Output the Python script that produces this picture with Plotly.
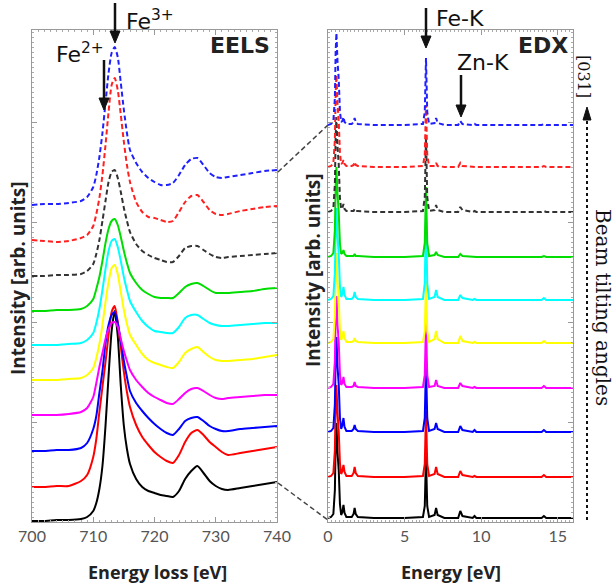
import plotly.graph_objects as go

# ---------------- EELS data (Fe L2,3 edge) ----------------
eels_energy = [700, 702, 704, 706, 708, 709, 710, 710.5, 711, 711.5, 712, 712.5, 713, 713.5,
               714, 714.5, 715, 715.5, 716, 717, 718, 719, 720, 721, 722, 723, 724, 725, 726,
               727, 728, 729, 730, 731, 732, 734, 736, 738, 740]

eels_black = [0, 0, 1, 1, 2, 4, 10, 18, 32, 55, 95, 145, 190, 210, 185, 135, 95, 72, 57, 42, 34, 30,
              28, 26, 25, 24, 30, 42, 50, 55, 48, 40, 35, 32, 31, 33, 35, 37, 39]
eels_red = [0, 0, 1, 1, 6, 12, 30, 48, 75, 100, 125, 152, 175, 181, 165, 140, 115, 95, 80, 62, 50, 42,
            35, 30, 26, 24, 32, 45, 54, 57, 52, 45, 40, 35, 32, 34, 36, 38, 40]
eels_blue = [0, 0, 1, 1, 3, 8, 22, 35, 58, 80, 108, 126, 136, 139, 128, 110, 90, 74, 60, 48, 40, 33,
             27, 22, 18, 16, 22, 30, 33, 34, 30, 25, 22, 20, 20, 22, 23, 24, 25]
eels_magenta = [0, 0, 0, 1, 3, 7, 18, 32, 48, 62, 76, 86, 92, 93, 88, 76, 64, 54, 45, 35, 28, 22,
                18, 15, 12, 11, 16, 22, 26, 27, 24, 20, 17, 16, 17, 18, 19, 20, 20]
eels_yellow = [0, 0, 0, 1, 2, 5, 12, 22, 36, 55, 78, 98, 112, 115, 106, 88, 70, 56, 45, 35, 26, 20,
               17, 15, 13, 12, 18, 27, 31, 33, 28, 23, 20, 19, 19, 20, 21, 23, 25]
eels_cyan = [0, 0, 0, 1, 2, 5, 12, 22, 36, 55, 76, 94, 104, 106, 98, 84, 68, 55, 44, 33, 24, 18,
             14, 13, 12, 12, 18, 27, 30, 30, 26, 22, 20, 19, 19, 20, 21, 22, 22]
eels_green = [0, 0, 1, 1, 2, 5, 12, 22, 34, 50, 68, 82, 90, 92, 86, 74, 60, 48, 38, 28, 21, 17,
              14, 13, 13, 13, 18, 24, 27, 28, 25, 21, 18, 18, 18, 19, 20, 22, 23]
eels_black_dash = [0, 0, 1, 1, 2, 5, 12, 22, 36, 55, 75, 94, 104, 106, 98, 84, 68, 55, 44, 32, 25, 21,
                   18, 16, 14, 14, 20, 28, 30, 30, 26, 22, 19, 18, 19, 20, 21, 22, 23]
eels_red_dash = [0, -1, -2, -1, 2, 5, 14, 26, 42, 65, 95, 128, 155, 162, 150, 125, 98, 75, 58, 38, 28,
                 23, 22, 20, 18, 19, 28, 38, 44, 45, 38, 30, 26, 25, 26, 29, 31, 33, 34]
eels_blue_dash = [0, 1, 1, 2, 4, 8, 18, 30, 48, 72, 102, 132, 152, 158, 148, 122, 95, 72, 55, 42, 33,
                  27, 23, 20, 20, 22, 30, 40, 46, 47, 40, 32, 28, 27, 28, 30, 32, 34, 35]

eels_offsets = [1, 35, 71, 107, 142, 177, 211, 246, 282, 317]

# ---------------- EDX data ----------------
edx_energy = [0.00, 0.20, 0.35, 0.45, 0.50, 0.55, 0.62, 0.70, 0.78, 0.86, 0.94, 1.01, 1.08, 1.20,
              1.55, 1.67, 1.74, 1.81, 1.95, 3.00, 5.00, 6.20, 6.32, 6.40, 6.48, 6.60, 6.96, 7.06,
              7.16, 7.60, 8.50, 8.64, 8.78, 9.45, 9.57, 9.69, 12.0, 13.95, 14.10, 14.25, 16.00]

edx_black = [0, 1, 4, 28, 76, 95, 66, 48, 14, 3, 6, 13, 5, 1, 1, 4, 10, 4, 1, 0, 0, 1, 12, 62, 12, 1,
             3, 10, 3, 0, 0, 7, 2, 0, 2, 0, 0, 0, 2, 0, 0]
edx_red = [0, 1, 4, 27, 74, 92, 64, 46, 14, 3, 6, 12, 5, 1, 1, 4, 10, 4, 1, 0, 0, 1, 13, 66, 13, 1,
           3, 10, 3, 0, 0, 6, 2, 0, 1, 0, 0, 0, 2, 0, 0]
edx_blue = [0, 1, 4, 28, 76, 95, 66, 48, 14, 3, 7, 14, 5, 1, 1, 3, 7, 3, 1, 0, 0, 1, 14, 70, 14, 1,
            3, 9, 3, 0, 0, 6, 2, 0, 2, 0, 0, 0, 2, 0, 0]
edx_magenta = [0, 1, 4, 27, 74, 92, 64, 46, 14, 3, 5, 11, 4, 1, 1, 2, 6, 2, 1, 0, 0, 1, 13, 66, 13, 1,
               2, 8, 2, 0, 0, 5, 2, 0, 1, 0, 0, 0, 2, 0, 0]
edx_yellow = [0, 1, 4, 27, 72, 90, 63, 45, 13, 3, 6, 12, 5, 1, 1, 2, 5, 2, 1, 0, 0, 1, 12, 62, 12, 1,
              4, 12, 4, 0, 0, 7, 2, 0, 1, 0, 0, 0, 2, 0, 0]
edx_cyan = [0, 1, 4, 27, 74, 92, 64, 46, 14, 3, 6, 13, 5, 1, 1, 3, 8, 3, 1, 0, 0, 1, 17, 87, 17, 1,
            3, 10, 3, 0, 0, 5, 2, 0, 1, 0, 0, 0, 2, 0, 0]
edx_green = [0, 1, 4, 27, 72, 90, 63, 45, 13, 3, 4, 7, 3, 1, 1, 1, 3, 1, 1, 0, 0, 1, 14, 70, 14, 1,
             2, 5, 2, 0, 0, 3, 1, 0, 0, 0, 0, 0, 1, 0, 0]
edx_black_dash = [0, 1, 4, 28, 76, 95, 66, 48, 14, 3, 4, 8, 3, 1, 1, 1, 3, 1, 1, 0, 0, 1, 15, 75, 15, 1,
                  2, 7, 2, 0, 0, 5, 2, 0, 1, 0, 0, 0, 1, 0, 0]
edx_red_dash = [0, 1, 4, 27, 74, 92, 64, 46, 14, 3, 4, 7, 3, 1, 1, 2, 5, 2, 1, 0, 0, 1, 12, 62, 12, 1,
                1, 4, 1, 0, 0, 4, 1, 0, 0, 0, 0, 0, 1, 0, 0]
edx_blue_dash = [0, 1, 4, 27, 74, 92, 64, 46, 14, 3, 4, 8, 3, 1, 1, 3, 7, 3, 1, 0, 0, 1, 13, 67, 13, 1,
                 2, 7, 2, 0, 0, 4, 1, 0, 1, 0, 0, 0, 1, 0, 0]

edx_offsets = [4, 45, 90, 134, 179, 222, 265, 310, 355, 397]

colors = ["#000000", "#ff0000", "#0000ff", "#ff00ff", "#ffff00", "#00ffff", "#00dd00",
          "#333333", "#ff2020", "#2020ff"]
dashes = ["solid"] * 7 + ["5px,3px"] * 3

eels_series = [eels_black, eels_red, eels_blue, eels_magenta, eels_yellow, eels_cyan, eels_green,
               eels_black_dash, eels_red_dash, eels_blue_dash]
edx_series = [edx_black, edx_red, edx_blue, edx_magenta, edx_yellow, edx_cyan, edx_green,
              edx_black_dash, edx_red_dash, edx_blue_dash]

W, H = 616, 588

def px(x):
    return x / W

def py(y):
    return 1 - y / H

fig = go.Figure()
for s, off, c, d in zip(eels_series, eels_offsets, colors, dashes):
    fig.add_trace(go.Scatter(x=eels_energy, y=[v + off for v in s], mode="lines",
                             line=dict(color=c, width=2, dash=d, shape="spline", smoothing=0.6),
                             xaxis="x", yaxis="y", showlegend=False, hoverinfo="skip"))
for s, off, c, d in zip(edx_series, edx_offsets, colors, dashes):
    fig.add_trace(go.Scatter(x=edx_energy, y=[v + off for v in s], mode="lines",
                             line=dict(color=c, width=2, dash=d),
                             xaxis="x2", yaxis="y2", showlegend=False, hoverinfo="skip"))

tickfont = dict(family="Lato", size=16, color="#555555")
frame = dict(showline=True, linecolor="#999999", linewidth=1, mirror="allticks", showgrid=False,
             zeroline=False, ticks="inside", tickcolor="#999999", ticklen=5, automargin=False)

fig.update_layout(
    width=W, height=H, margin=dict(l=0, r=0, t=0, b=0, pad=0, autoexpand=False),
    paper_bgcolor="white", plot_bgcolor="white", showlegend=False,
    xaxis=dict(domain=[px(32), px(277)], range=[700, 740], tickvals=[700, 710, 720, 730, 740],
               tickfont=tickfont, minor=dict(dtick=1, ticklen=2, tickcolor="#aaaaaa", ticks="inside"),
               anchor="y", **frame),
    yaxis=dict(domain=[py(522), py(30)], range=[0, 492], showticklabels=False, dtick=100,
               minor=dict(dtick=5, ticklen=2, tickcolor="#aaaaaa", ticks="inside"),
               anchor="x", **frame),
    xaxis2=dict(domain=[px(328), px(573)], range=[0, 16], tickvals=[0, 5, 10, 15],
                tickfont=tickfont, minor=dict(dtick=0.25, ticklen=2, tickcolor="#aaaaaa", ticks="inside"),
                anchor="y2", **frame),
    yaxis2=dict(domain=[py(522), py(30)], range=[0, 492], showticklabels=False, dtick=100,
                minor=dict(dtick=5, ticklen=2, tickcolor="#aaaaaa", ticks="inside"),
                anchor="x2", **frame),
)

def text(x, y, t, font, angle=0):
    return dict(x=px(x), y=py(y), xref="paper", yref="paper", text=t, showarrow=False,
                xanchor="center", yanchor="middle", textangle=angle, font=font)

lab = dict(family="Open Sans", size=18, color="#222222")
ylab = dict(family="Open Sans", size=19, color="#222222")
big = dict(family="DejaVu Sans", size=22, color="#111111")
bold = dict(family="DejaVu Sans", size=22, color="#222222")
serif = dict(family="DejaVu Serif", size=20, color="#111111")

ann = [
    text(157, 572, "<b>Energy loss [eV]</b>", lab),
    text(451, 572, "<b>Energy [eV]</b>", lab),
    text(18, 278, "<b>Intensity [arb. units]</b>", ylab, -90),
    text(313, 270, "<b>Intensity [arb. units]</b>", ylab, -90),
    text(150, 20, "Fe<sup>3+</sup>", big),
    text(80, 53, "Fe<sup>2+</sup>", big),
    text(240, 46, "<b>EELS</b>", bold),
    text(460, 19, "Fe-K", big),
    text(543, 46, "<b>EDX</b>", bold),
    text(483, 62, "Zn-K", big),
    text(584, 76, "[031]", dict(family="DejaVu Serif", size=16, color="#111111"), 90),
    text(603, 307, "Beam tilting angles", serif, 90),
]
fig.update_layout(annotations=ann)

def down_arrow(x, y_tail, y_head):
    shaft = dict(type="line", xref="paper", yref="paper", x0=px(x), y0=py(y_tail),
                 x1=px(x), y1=py(y_head - 8), line=dict(color="#111111", width=2.5))
    head = dict(type="path", xref="paper", yref="paper",
                path=f"M {px(x - 5)},{py(y_head - 12)} L {px(x + 5)},{py(y_head - 12)} "
                     f"L {px(x)},{py(y_head)} Z",
                fillcolor="#111111", line=dict(color="#111111", width=1))
    return [shaft, head]

shapes = [
    dict(type="line", xref="paper", yref="paper", x0=px(278), y0=py(172), x1=px(328), y1=py(125),
         line=dict(color="#444444", width=1.5, dash="5px,3px")),
    dict(type="line", xref="paper", yref="paper", x0=px(278), y0=py(483), x1=px(328), y1=py(520),
         line=dict(color="#444444", width=1.5, dash="5px,3px")),
    dict(type="line", xref="paper", yref="paper", x0=px(587), y0=py(520), x1=px(587), y1=py(116),
         line=dict(color="#111111", width=2, dash="dot")),
    dict(type="path", xref="paper", yref="paper",
         path=f"M {px(583)},{py(120)} L {px(591)},{py(120)} L {px(587)},{py(107)} Z",
         fillcolor="#111111", line=dict(color="#111111", width=1)),
]
shapes += down_arrow(115, 3, 43)
shapes += down_arrow(104, 60, 110)
shapes += down_arrow(426, 8, 48)
shapes += down_arrow(461, 75, 117)
fig.update_layout(shapes=shapes)

fig.write_html("out.html", config={"displayModeBar": False},
               post_script="document.body.style.margin='0';document.body.style.padding='0';")
